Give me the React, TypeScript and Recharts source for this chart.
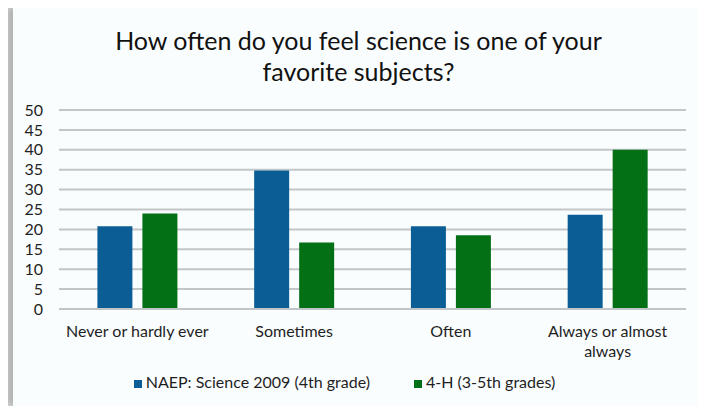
import { BarChart, Bar, XAxis, YAxis, CartesianGrid, Legend, Text } from 'recharts';

const categories = ['Never or hardly ever', 'Sometimes', 'Often', 'Always or almost always'];
const naep = [20.8, 34.8, 20.8, 23.7];
const fourH = [24, 16.7, 18.5, 40];
const yTicks = [0, 5, 10, 15, 20, 25, 30, 35, 40, 45, 50];
const seriesOrder = ['naep', 'fourH'];

const data = categories.map((name, i) => ({
    name,
    naep: naep[i],
    fourH: fourH[i],
}));

const FONT = 'Lato, "Open Sans", sans-serif';

function CategoryTick(props: any) {
    const { x, y, payload } = props;
    return (
        <Text
            x={x}
            y={y}
            width={155}
            textAnchor="middle"
            verticalAnchor="start"
            fill="#1f1f1f"
            fontSize={16}
            fontFamily={FONT}
            lineHeight={20}
        >
            {payload.value}
        </Text>
    );
}

export default function App() {
    return (
        <div style={{ position: 'relative', width: 706, height: 414, margin: -8, background: '#ffffff' }}>
            <div
                style={{
                    position: 'absolute',
                    left: 13,
                    top: 8,
                    width: 691,
                    height: 406,
                    background: '#fafdfe',
                    boxShadow: '-10px -5px 10px rgba(0,0,0,0.3), 3px 0 3px rgba(0,0,0,0.3)',
                }}
            >
                <div
                    style={{
                        position: 'absolute',
                        top: 17,
                        left: 0,
                        width: 691,
                        textAlign: 'center',
                        fontFamily: FONT,
                        fontSize: 25,
                        lineHeight: '31px',
                        color: '#111',
                    }}
                >
                    How often do you feel science is one of your
                    <br />
                    favorite subjects?
                </div>
                <div style={{ position: 'absolute', left: 0, top: 0 }}>
                    <BarChart
                        width={691}
                        height={406}
                        data={data}
                        margin={{ top: 102, right: 18, left: 0, bottom: 0 }}
                        barCategoryGap="24.5%"
                        barGap={10}
                    >
                        <CartesianGrid vertical={false} stroke="#c3c6c8" strokeWidth={2} />
                        <XAxis
                            dataKey="name"
                            axisLine={{ stroke: '#c3c6c8', strokeWidth: 2 }}
                            tickLine={false}
                            tickSize={0}
                            tickMargin={17}
                            height={86}
                            interval={0}
                            tick={<CategoryTick />}
                        />
                        <YAxis
                            domain={[0, 50]}
                            ticks={yTicks}
                            interval={0}
                            width={46}
                            axisLine={false}
                            tickLine={false}
                            tickSize={0}
                            tickMargin={16}
                            tick={{ fill: '#1f1f1f', fontSize: 16, fontFamily: FONT }}
                        />
                        <Legend
                            verticalAlign="bottom"
                            align="center"
                            iconType="square"
                            iconSize={8}
                            itemSorter={(item: any) => seriesOrder.indexOf(item.dataKey)}
                            wrapperStyle={{ fontFamily: FONT, fontSize: 16, bottom: 23 }}
                            formatter={(value, entry: any) => (
                                <span style={{ color: '#1f1f1f', marginRight: entry.dataKey === 'naep' ? 34 : 0 }}>
                                    {value}
                                </span>
                            )}
                        />
                        <Bar
                            dataKey="naep"
                            name="NAEP: Science 2009 (4th grade)"
                            fill="#0a5e95"
                            isAnimationActive={false}
                        />
                        <Bar
                            dataKey="fourH"
                            name="4-H (3-5th grades)"
                            fill="#037016"
                            isAnimationActive={false}
                        />
                    </BarChart>
                </div>
            </div>
        </div>
    );
}
